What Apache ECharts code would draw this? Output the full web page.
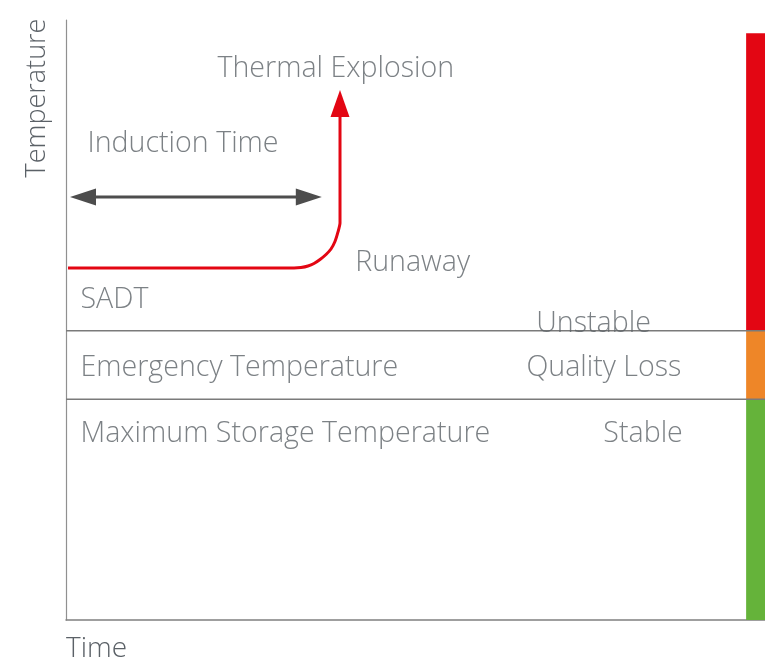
<!DOCTYPE html>
<html><head><meta charset="utf-8">
<script src="https://cdn.jsdelivr.net/npm/echarts@6/dist/echarts.min.js"></script>
<style>html,body{margin:0;padding:0;background:#fff;overflow:hidden}#c{width:765px;height:658px}</style>
</head><body><div id="c"></div>
<script>
// ---- data (axis units: time 0..100, temperature 0..100) ----
const curveTime = [0.29, 32.62, 33.62, 34.62, 35.48, 36.34, 37.2, 37.91, 38.48, 38.91, 39.2, 39.2];
const curveTemp = [58.67, 58.67, 58.75, 59.0, 59.42, 60.08, 60.92, 61.83, 63.08, 64.67, 66.17, 85];
const arrowTipTime = 39.2, arrowHeadTemp = 86.1;
const inductionStart = 0.57, inductionEnd = 36.6, inductionTemp = 70.5;
const levelLines = [36.8, 48.2];           // maximum storage temp, emergency temp
const bandFrom = [0, 36.8, 48.2];
const bandTo = [36.8, 48.2, 97.8];
const bandTime = [97.3, 100];
const labelTexts = ['Thermal Explosion', 'Induction Time', 'Runaway', 'SADT', 'Unstable',
  'Emergency Temperature', 'Quality Loss', 'Maximum Storage Temperature', 'Stable'];
const labelTime = [21.6, 3.0, 41.3, 2.0, 67.2, 2.0, 65.8, 2.0, 76.8];
const labelTemp = [91.8, 79.3, 59.6, 53.4, 49.3, 42.1, 42.1, 31.1, 31.1];

// ---- styles ----
const FONT = '"Open Sans"';
const FW = 300;
const FS = 28.6;
const TXT = '#5b6167';
const bandColors = ['#65b33a', '#ee8628', '#e30613'];
const RED = '#e30613';
const DARK = '#4d4d4d';

const chart = echarts.init(document.getElementById('c'), null, {renderer: 'canvas'});
const xy = (xs, ys) => xs.map((x, i) => [x, ys[i]]);

chart.setOption({
  animation: false,
  grid: {left: 66, right: 0, top: 20, bottom: 38},
  xAxis: {type: 'value', min: 0, max: 100,
    axisLine: {show: true, lineStyle: {color: '#808080', width: 1.5}},
    axisTick: {show: false}, axisLabel: {show: false}, splitLine: {show: false}},
  yAxis: {type: 'value', min: 0, max: 100,
    axisLine: {show: true, lineStyle: {color: '#909090', width: 1.2}},
    axisTick: {show: false}, axisLabel: {show: false}, splitLine: {show: false}},
  graphic: [
    {type: 'text', x: 37, y: 98, rotation: Math.PI / 2,
      style: {text: 'Temperature', fill: TXT, font: FW + ' 27px ' + FONT, align: 'center', verticalAlign: 'middle'}},
    {type: 'text', x: 66, y: 649,
      style: {text: 'Time', fill: TXT, font: FW + ' 28px ' + FONT, align: 'left', verticalAlign: 'middle'}}
  ],
  series: [
    {type: 'line', data: [], silent: true,
      markArea: {silent: true, data: bandFrom.map((f, i) => [
        {xAxis: bandTime[0], yAxis: f, itemStyle: {color: bandColors[i], opacity: 1}},
        {xAxis: bandTime[1], yAxis: bandTo[i]}])}},
    ...levelLines.map(v => ({type: 'line', z: 5, symbol: 'none', silent: true,
      data: [[0, v], [100, v]], lineStyle: {color: '#7a7a7a', width: 1.5}})),
    {type: 'line', z: 6, symbol: 'none', smooth: 0.2, silent: true,
      data: xy(curveTime, curveTemp), lineStyle: {color: RED, width: 3}},
    {type: 'scatter', z: 7, silent: true, symbol: 'triangle', symbolSize: [19, 27],
      itemStyle: {color: RED, opacity: 1}, data: [[arrowTipTime, arrowHeadTemp]]},
    {type: 'line', z: 6, symbol: 'none', silent: true,
      data: [[inductionStart + 3, inductionTemp], [inductionEnd - 3, inductionTemp]],
      lineStyle: {color: DARK, width: 3}},
    {type: 'scatter', z: 7, silent: true, symbol: 'triangle', symbolSize: [17, 26],
      itemStyle: {color: DARK, opacity: 1},
      data: [{value: [inductionStart + 1.86, inductionTemp], symbolRotate: 90},
             {value: [inductionEnd - 1.86, inductionTemp], symbolRotate: -90}]},
    {type: 'scatter', z: 8, silent: true, symbolSize: 1, itemStyle: {color: 'rgba(0,0,0,0)'},
      data: xy(labelTime, labelTemp).map((p, i) => ({value: p, name: labelTexts[i]})),
      label: {show: true, position: 'right', distance: 0, formatter: '{b}',
        color: TXT, fontFamily: FONT, fontWeight: FW, fontSize: FS, align: 'left', verticalAlign: 'middle'}}
  ]
});
</script></body></html>
